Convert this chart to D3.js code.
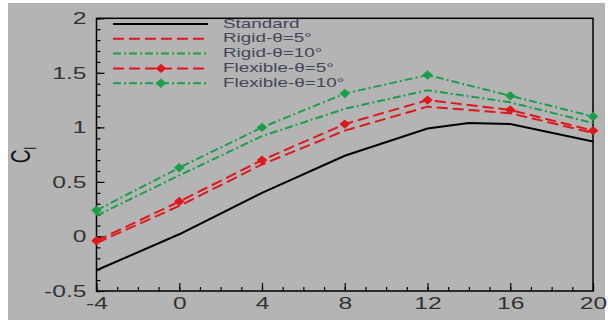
<!DOCTYPE html>
<html>
<head>
<meta charset="utf-8">
<script src="https://cdn.jsdelivr.net/npm/d3@7"></script>
<style>
  body { margin: 0; background: #fff; }
  svg { display: block; font-family: "Liberation Sans", Arial, sans-serif; }
</style>
</head>
<body>
<div id="chart"></div>
<script>
// --- data ---
const aoa = [-4, 0, 4, 8, 12, 16, 20];
const stdAoa = [-4, 0, 4, 8, 12, 14, 16, 20];
const standard = [-0.31, 0.02, 0.40, 0.74, 0.99, 1.04, 1.03, 0.87];
const rigid5 = [-0.06, 0.28, 0.66, 0.97, 1.19, 1.13, 0.95];
const rigid10 = [0.19, 0.56, 0.92, 1.17, 1.34, 1.23, 1.04];
const flex5 = [-0.04, 0.32, 0.70, 1.03, 1.25, 1.16, 0.97];
const flex10 = [0.24, 0.63, 1.00, 1.31, 1.48, 1.29, 1.10];
const xTicks = [-4, 0, 4, 8, 12, 16, 20];
const yTicks = [-0.5, 0, 0.5, 1, 1.5, 2];
const legendLabels = ["Standard", "Rigid-θ=5°", "Rigid-θ=10°", "Flexible-θ=5°", "Flexible-θ=10°"];

const W = 608, H = 321;
const margin = { left: 96.5, right: 15, top: 18.3, bottom: 30 };
const sx = 1.45; // text in the picture is stretched sideways

const series = [
  { name: legendLabels[0], xs: stdAoa, ys: standard, color: "#000", dash: null, marker: false },
  { name: legendLabels[1], xs: aoa, ys: rigid5, color: "#e0161b", dash: "11,5", marker: false },
  { name: legendLabels[2], xs: aoa, ys: rigid10, color: "#1aa04a", dash: "8,3,2,3", marker: false },
  { name: legendLabels[3], xs: aoa, ys: flex5, color: "#e0161b", dash: "11,5", marker: true },
  { name: legendLabels[4], xs: aoa, ys: flex10, color: "#1aa04a", dash: "8,3,2,3", marker: true }
];

const svg = d3.select("#chart").append("svg")
  .attr("width", W)
  .attr("height", H);

// grey picture background
svg.append("rect")
  .attr("x", 8).attr("y", 3)
  .attr("width", W - 11).attr("height", H - 4)
  .attr("fill", "#b4b4b4");

const x = d3.scaleLinear().domain([-4, 20]).range([margin.left, W - margin.right]);
const y = d3.scaleLinear().domain([-0.5, 2]).range([H - margin.bottom, margin.top]);

// minor ticks
svg.append("g")
  .attr("transform", `translate(0,${y(-0.5)})`)
  .call(d3.axisBottom(x).tickValues(d3.range(-4, 21, 1)).tickSize(-4).tickFormat(""))
  .call(g => g.select(".domain").remove());
svg.append("g")
  .attr("transform", `translate(${x(-4)},0)`)
  .call(d3.axisLeft(y).tickValues(d3.range(-5, 21, 1).map(d => d / 10)).tickSize(-4).tickFormat(""))
  .call(g => g.select(".domain").remove());

// major ticks + labels
const xAxis = svg.append("g")
  .attr("transform", `translate(0,${y(-0.5)})`)
  .call(d3.axisBottom(x).tickValues(xTicks).tickSize(-8).tickPadding(6).tickFormat(d => String(d)));
xAxis.select(".domain").remove();
xAxis.selectAll("text")
  .attr("font-size", 17)
  .attr("fill", "#333")
  .attr("font-family", "Liberation Sans, Arial, sans-serif")
  .attr("transform", `scale(${sx},1)`);

const yAxis = svg.append("g")
  .attr("transform", `translate(${x(-4)},0)`)
  .call(d3.axisLeft(y).tickValues(yTicks).tickSize(-8).tickPadding(10).tickFormat(d => String(d)));
yAxis.select(".domain").remove();
yAxis.selectAll("text")
  .attr("font-size", 17)
  .attr("fill", "#333")
  .attr("font-family", "Liberation Sans, Arial, sans-serif")
  .attr("x", -10 / sx)
  .attr("transform", `scale(${sx},1)`);

svg.selectAll(".tick line").attr("stroke", "#000").attr("stroke-width", 1.2);

// frame
svg.append("rect")
  .attr("x", x(-4)).attr("y", y(2))
  .attr("width", x(20) - x(-4)).attr("height", y(-0.5) - y(2))
  .attr("fill", "none")
  .attr("stroke", "#000")
  .attr("stroke-width", 1.5);

// lines
const line = d3.line().x(d => x(d[0])).y(d => y(d[1]));
const diamond = d3.symbol().type(d3.symbolDiamond).size(40);
const mk = "scale(1.55,0.8)";

series.forEach(s => {
  const pts = s.xs.map((v, i) => [v, s.ys[i]]);
  svg.append("path")
    .datum(pts)
    .attr("d", line)
    .attr("fill", "none")
    .attr("stroke", s.color)
    .attr("stroke-width", 2)
    .attr("stroke-dasharray", s.dash);
  if (s.marker) {
    svg.selectAll(null)
      .data(pts)
      .join("path")
      .attr("d", diamond)
      .attr("transform", d => `translate(${x(d[0])},${y(d[1])}) ${mk}`)
      .attr("fill", s.color);
  }
});

// legend
const lg = svg.append("g");
series.forEach((s, i) => {
  const ly = 24 + i * 14.8;
  lg.append("line")
    .attr("x1", 113).attr("x2", 208)
    .attr("y1", ly).attr("y2", ly)
    .attr("stroke", s.color)
    .attr("stroke-width", 2)
    .attr("stroke-dasharray", s.dash);
  if (s.marker) {
    lg.append("path")
      .attr("d", diamond)
      .attr("transform", `translate(161,${ly}) ${mk}`)
      .attr("fill", s.color);
  }
  lg.append("text")
    .attr("transform", `translate(223,${ly - 1}) scale(${sx},1)`)
    .attr("dy", "0.35em")
    .attr("font-size", 13)
    .attr("fill", "#44465a")
    .text(s.name);
});

// y axis title C_l
const yt = svg.append("text")
  .attr("transform", `translate(30,155) scale(${sx},1) rotate(-90)`)
  .attr("text-anchor", "middle")
  .attr("font-size", 19)
  .attr("fill", "#111");
yt.append("tspan").text("C");
yt.append("tspan").attr("font-size", 12).attr("dy", 4).text("l");
</script>
</body>
</html>
